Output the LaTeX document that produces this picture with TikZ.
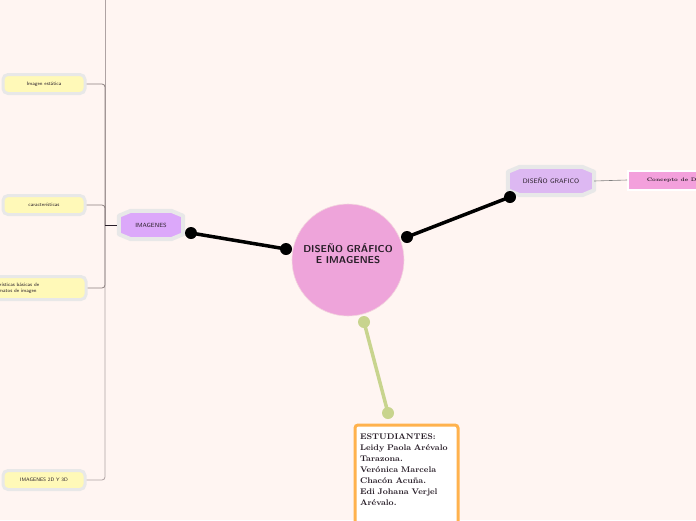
\documentclass[tikz,border=0pt]{standalone}
\usepackage{fontspec}
\usetikzlibrary{backgrounds, calc}
\definecolor{fondo}{RGB}{255,245,242}
\definecolor{rosa}{RGB}{238,164,218}
\definecolor{rosaclaro}{RGB}{243,160,220}
\definecolor{lila}{RGB}{220,168,250}
\definecolor{lilaclaro}{RGB}{221,184,242}
\definecolor{amarillo}{RGB}{255,249,184}
\definecolor{borde}{RGB}{232,232,232}
\definecolor{linea}{RGB}{175,163,163}
\definecolor{lineaosc}{RGB}{140,128,128}
\definecolor{verde}{RGB}{200,212,142}
\definecolor{naranja}{RGB}{255,178,77}
\definecolor{tinta}{RGB}{40,30,40}

\tikzset{
  hoja/.style={rectangle, rounded corners=5pt, fill=amarillo, draw=borde,
    line width=3pt, minimum width=82pt, minimum height=19pt, align=center,
    text=tinta, font=\sffamily\fontsize{5}{6}\selectfont},
  hexa/.style={rectangle, inner sep=0pt, text=tinta,
    font=\sffamily\fontsize{6}{7}\selectfont},
  hexborde/.style={draw=borde, line width=4pt, line join=round, fill=#1},
  punto/.style={circle, fill=#1, inner sep=0pt, minimum size=12pt},
  punto/.default=black,
  conector/.style={line width=3.5pt, draw=#1},
  conector/.default=black,
  rama/.style={draw=linea, line width=0.8pt, rounded corners=3pt}
}

\begin{document}
\begin{tikzpicture}[x=1pt, y=-1pt]
  % Recorte del mapa.
  \clip (0,0) rectangle (696,520);

  % Idea central.
  \node[circle, fill=rosa, draw=rosa!70!brown!40, line width=0.6pt,
        minimum size=112pt, inner sep=0pt] (centro) at (348,260) {};
  \node[font=\sffamily\bfseries\fontsize{10}{11}\selectfont, align=center,
        text=tinta] (titulo) at (348,254) {DISEÑO GRÁFICO\\E IMAGENES};

  % Rama izquierda: IMAGENES.
  \node[hexa, minimum width=64pt, minimum height=28pt] (imagenes)
        at (151,225) {IMAGENES};
  \node[punto] (pImg) at (191,233) {};
  \node[punto] (pIzq) at (286,249) {};
  \draw[conector] (pImg.center) -- (pIzq.center);

  % Rama derecha: DISEÑO GRAFICO.
  \node[hexa, minimum width=86pt, minimum height=28pt,
        font=\sffamily\fontsize{6.5}{7.5}\selectfont] (disenio) at (551,181) {DISEÑO GRAFICO};
  \node[punto] (pDer) at (407,237) {};
  \node[punto] (pDis) at (510,197) {};
  \draw[conector] (pDer.center) -- (pDis.center);
  \node[rectangle, fill=rosaclaro, draw=white, line width=2pt,
        minimum width=104pt, minimum height=19pt, anchor=west,
        font=\bfseries\fontsize{5}{6}\selectfont, text=tinta] (concepto) at (627,180)
        {Concepto de Diseño};
  \draw[draw=gray, line width=0.6pt] (disenio.east) -- (concepto.west);

  % Fondo y hexagonos debajo de los textos.
  \begin{scope}[on background layer]
    \fill[fondo] (0,0) rectangle (696,520);
    \foreach \h/\c in {imagenes/lila, disenio/lilaclaro}{
      \filldraw[hexborde=\c] ($(\h.north west)+(0,5)$) -- ($(\h.north west)+(12,0)$)
        -- ($(\h.north east)+(-12,0)$) -- ($(\h.north east)+(0,5)$)
        -- ($(\h.south east)+(0,-5)$) -- ($(\h.south east)+(-12,0)$)
        -- ($(\h.south west)+(12,0)$) -- ($(\h.south west)+(0,-5)$) -- cycle;
    }
  \end{scope}

  % Rama inferior: estudiantes.
  \node[punto=verde] (pAbj) at (364,322) {};
  \node[punto=verde] (pEst) at (388,413) {};
  \draw[conector=verde] (pAbj.center) -- (pEst.center);
  \node[rectangle, rounded corners=3pt, fill=white, draw=naranja, line width=3pt,
        anchor=north west, minimum width=103pt, text width=93pt, align=left,
        inner xsep=5pt, inner ysep=9pt, text=tinta,
        font=\bfseries\fontsize{8.2}{11}\selectfont] (estudiantes) at (353.5,423.5)
        {ESTUDIANTES:\\Leidy Paola Arévalo\\Tarazona.\\Verónica Marcela\\Chacón Acuña.\\Edi Johana Verjel\\Arévalo.\\[16pt]~};

  % Subtemas de IMAGENES.
  \coordinate (tronco) at (105,225);
  \coordinate (arriba) at (105,-10);
  \node[hoja] (estatica) at (44,84) {Imagen estática};
  \node[hoja] (caracteristicas) at (44,205) {características};
  \node[hoja, minimum width=150pt, minimum height=23pt] (basicas) at (11,288)
        {Características básicas de\\los formatos de imagen};
  \node[hoja] (dosd) at (44,480) {IMAGENES 2D Y 3D};
  \draw[rama] (arriba) -- (tronco);
  \draw[rama] (dosd.east) -| (tronco);
  \draw[rama, draw=lineaosc] (estatica.east) -| (tronco);
  \draw[rama, draw=lineaosc] (caracteristicas.east) -| (tronco);
  \draw[rama, draw=lineaosc] (basicas.east) -| (tronco);
  \draw[line width=0.8pt, tinta] ($(imagenes.west)+(-2,0)$) -- (tronco);
\end{tikzpicture}
\end{document}
